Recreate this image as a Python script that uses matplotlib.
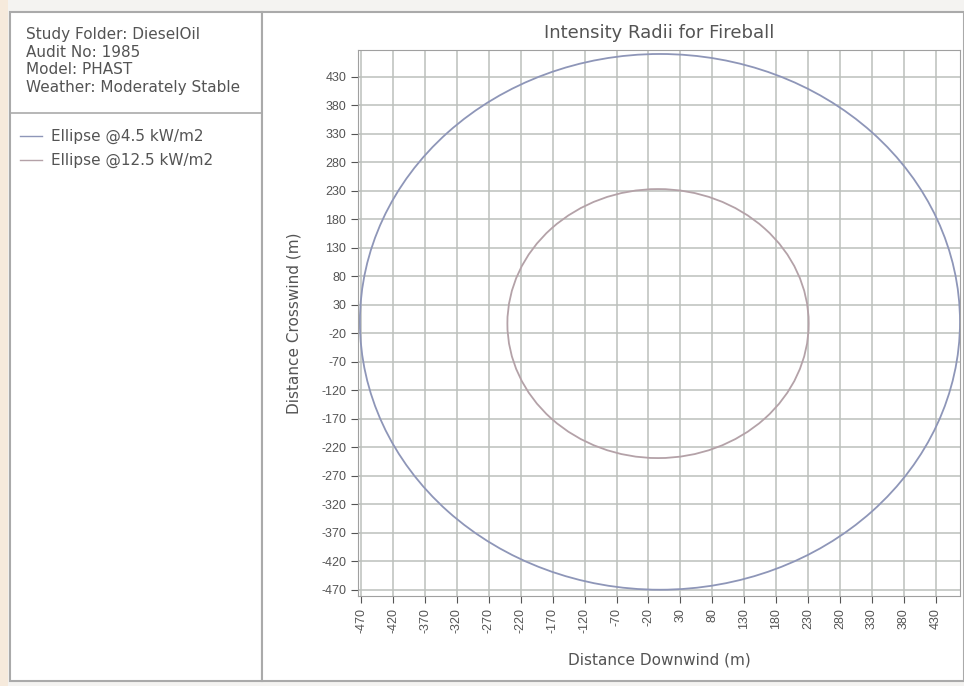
import numpy as np
import matplotlib.pyplot as plt
from matplotlib.patches import Ellipse, Rectangle
from matplotlib.lines import Line2D

plt.rcParams['font.family'] = ['Liberation Sans', 'DejaVu Sans']
plt.rcParams['axes.unicode_minus'] = False

# fireball intensity ellipses (downwind centre, crosswind centre, radius in m)
series_names = ['Ellipse @4.5 kW/m2', 'Ellipse @12.5 kW/m2']
centre_x = [-2, -5]
centre_y = [0, -3]
radius = [470, 236]
colours = ['#8e96b8', '#b4a2a8']

info_lines = ['Study Folder: DieselOil', 'Audit No: 1985', 'Model: PHAST',
              'Weather: Moderately Stable']
tick_values = list(range(-470, 431, 50))

W, H = 964, 686
fig = plt.figure(figsize=(W / 100, H / 100), dpi=100, facecolor='#f4f3f1')

def fx(px):
    return px / W

def fy(py):
    return 1 - py / H

txt = '#545454'
edge = '#aaaaaa'

# window background and panels
fig.patches.append(Rectangle((0, 0), fx(8), 1, transform=fig.transFigure,
                             facecolor='#f6eadc', edgecolor='none', zorder=-6))
for x0, w in [(10, 252), (262, 702)]:
    fig.patches.append(Rectangle((fx(x0), fy(681)), fx(w), 669 / H, transform=fig.transFigure,
                                 facecolor='white', edgecolor=edge, lw=1.5, zorder=-5))
fig.lines.append(Line2D([fx(10), fx(262)], [fy(113), fy(113)], transform=fig.transFigure,
                        color=edge, lw=1.2))

panel_font = dict(family='DejaVu Sans', fontsize=11, color=txt, va='center')
for i, s in enumerate(info_lines):
    fig.text(fx(26), fy(35 + 17.5 * i), s, **panel_font)

for i, (name, c) in enumerate(zip(series_names, colours)):
    y = fy(136 + 24 * i)
    fig.lines.append(Line2D([fx(20), fx(42)], [y, y], transform=fig.transFigure, color=c, lw=1))
    fig.text(fx(51), y, name, **panel_font)

ax = fig.add_axes([fx(358), fy(596), 602 / W, 546 / H])
ax.set_facecolor('white')
for cx, cy, r, c in zip(centre_x, centre_y, radius, colours):
    ax.add_patch(Ellipse((cx, cy), 2 * r, 2 * r, fill=False, edgecolor=c, lw=1.3))

ax.set_xlim(-475, 468)
ax.set_ylim(-481, 477)
ax.set_xticks(tick_values)
ax.set_yticks(tick_values)
ax.grid(True, color='#bcc0bc', lw=1.1)
ax.set_axisbelow(True)
ax.tick_params(axis='x', labelrotation=90, labelsize=9, colors=txt, length=5)
ax.tick_params(axis='y', labelsize=9, colors=txt, length=5)
for sp in ax.spines.values():
    sp.set_color('#a0a0a0')

label_font = dict(family='DejaVu Sans', color=txt)
ax.set_title('Intensity Radii for Fireball', fontsize=13, pad=9, **label_font)
ax.set_xlabel('Distance Downwind (m)', fontsize=11, labelpad=14, **label_font)
ax.set_ylabel('Distance Crosswind (m)', fontsize=11, labelpad=14, **label_font)

fig.savefig('out.png', dpi=100, facecolor=fig.get_facecolor())
